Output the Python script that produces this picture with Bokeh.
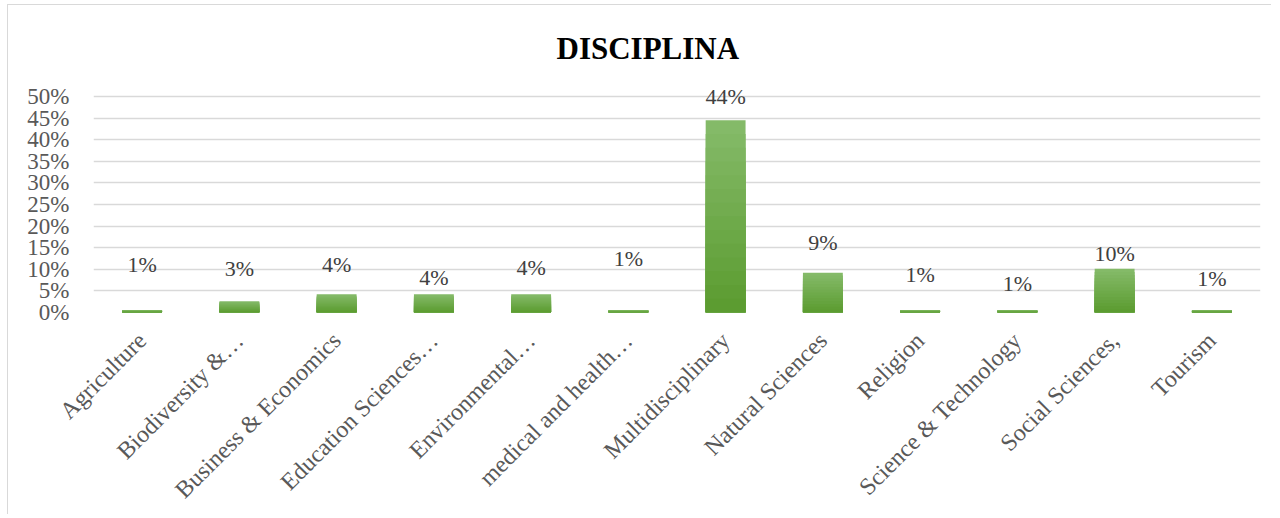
import math
from bokeh.plotting import figure
from bokeh.models import FixedTicker, NumeralTickFormatter
from bokeh.core.properties import value
from bokeh.embed import file_html
from bokeh.resources import INLINE

# ---- data ----
categories = ["Agriculture", "Biodiversity &\u2026", "Business & Economics",
              "Education Sciences\u2026", "Environmental\u2026", "medical and health\u2026",
              "Multidisciplinary", "Natural Sciences", "Religion",
              "Science & Technology", "Social Sciences,", "Tourism"]
shares = [0.006, 0.026, 0.042, 0.042, 0.042, 0.006, 0.445, 0.092, 0.006, 0.006, 0.101, 0.006]
label_text = ["1%", "3%", "4%", "4%", "4%", "1%", "44%", "9%", "1%", "1%", "10%", "1%"]
label_level = [0.110, 0.102, 0.112, 0.082, 0.104, 0.125, 0.500, 0.162, 0.087, 0.068, 0.137, 0.079]
y_ticks = [0.0, 0.05, 0.10, 0.15, 0.20, 0.25, 0.30, 0.35, 0.40, 0.45, 0.50]
title_text = "DISCIPLINA"

SERIF = "Liberation Serif"

p = figure(x_range=categories, y_range=(0, 0.53), width=1264, height=510,
           output_backend="svg", toolbar_location=None,
           min_border_left=85, min_border_right=12, min_border_top=78, min_border_bottom=202)

p.title.text = title_text
p.title.text_font = SERIF
p.title.text_font_style = "bold"
p.title.text_font_size = "31px"
p.title.text_color = "#000000"
p.title.align = "left"
p.title.offset = 463
p.title.standoff = 35

p.outline_line_color = None
p.background_fill_color = "white"
p.border_fill_color = "white"

# gridlines
p.xgrid.grid_line_color = None
p.ygrid.grid_line_color = "#d9d9d9"
p.ygrid.grid_line_width = 1.5

# y axis
p.yaxis.ticker = FixedTicker(ticks=y_ticks)
p.yaxis.formatter = NumeralTickFormatter(format="0%")
p.yaxis.axis_line_color = None
p.yaxis.major_tick_line_color = None
p.yaxis.minor_tick_line_color = None
p.yaxis.major_label_text_font = SERIF
p.yaxis.major_label_text_font_size = "23px"
p.yaxis.major_label_text_color = "#595959"
p.yaxis.major_label_standoff = 18

# x axis
p.xaxis.axis_line_color = None
p.xaxis.major_tick_line_color = None
p.xaxis.minor_tick_line_color = None
p.xaxis.major_label_orientation = math.pi / 4
p.xaxis.major_label_text_font = SERIF
p.xaxis.major_label_text_font_size = "24px"
p.xaxis.major_label_text_color = "#595959"
p.xaxis.major_label_standoff = 18

# bars with a vertical light-to-dark gradient (layered)
top_rgb = (0x84, 0xba, 0x68)
bot_rgb = (0x5c, 0x9c, 0x31)
n_layers = 14
for k in range(n_layers):
    f = 1 - k / n_layers
    t = k / (n_layers - 1)
    rgb = tuple(int(round(a + (b - a) * t)) for a, b in zip(top_rgb, bot_rgb))
    color = "#%02x%02x%02x" % rgb
    p.vbar(x=categories, top=[v * f for v in shares], width=0.41,
           fill_color=color, line_color=None)

# data labels
p.text(x=categories, y=label_level, text=label_text,
       text_font=value(SERIF), text_font_size="22px", text_color="#404040",
       text_align="center", text_baseline="middle")

p.styles = {"border-left": "1px solid #d9d9d9", "border-top": "1px solid #d9d9d9",
            "margin-left": "7px", "margin-top": "4px"}

open("out.html", "w").write(file_html(p, INLINE))
